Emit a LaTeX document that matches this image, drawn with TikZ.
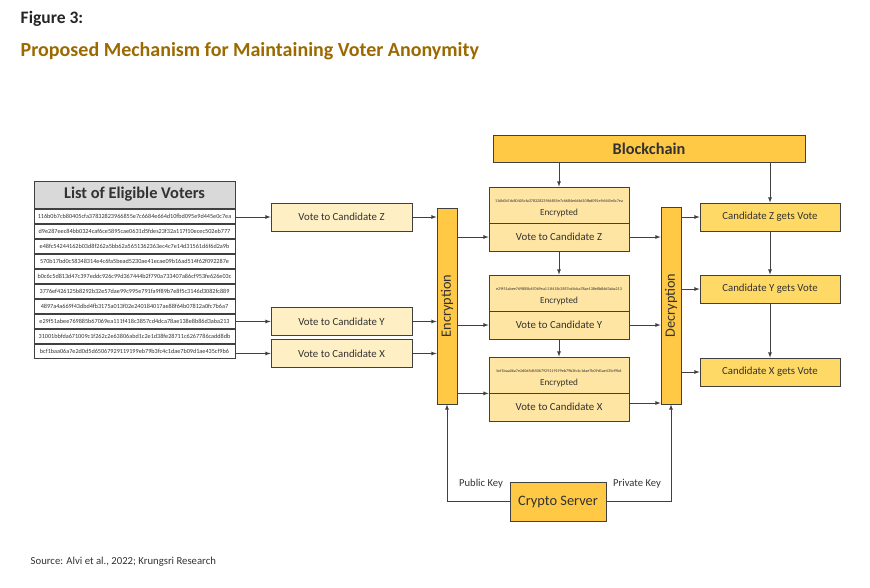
\documentclass[tikz,border=0pt]{standalone}
\usepackage{fontspec}
\setmainfont{Carlito}
\usetikzlibrary{calc}
\definecolor{linegray}{RGB}{64,64,64}
\definecolor{textgray}{RGB}{50,50,50}
\definecolor{headgray}{RGB}{217,217,217}
\definecolor{gold}{RGB}{255,200,69}
\definecolor{candgold}{RGB}{255,217,102}
\definecolor{cream}{RGB}{255,239,196}
\definecolor{creamdark}{RGB}{255,229,163}
\definecolor{titlebrown}{RGB}{155,105,0}
\newcommand{\tinyhash}[1]{\rule{0pt}{9pt}{\fontsize{4.1}{5}\selectfont #1}}

\begin{document}
\begin{tikzpicture}[
 x=1pt,
 y=-1pt,
 thick,
 >={latex},
 color=linegray,
 box/.style={
  draw=linegray,
  text=textgray,
  rectangle,
  inner sep=1pt,
  align=center,
  font=\fontsize{10.8}{13}\selectfont,
 },
 row/.style={box, minimum width=201pt, minimum height=14pt, inner sep=0pt, font=\fontsize{6.2}{7}\selectfont},
 vote/.style={box, fill=cream, minimum width=141pt, minimum height=28pt},
 bar/.style={box, fill=gold, minimum width=20pt, minimum height=196pt, font=\fontsize{14.3}{16}\selectfont},
 sealed/.style={box, fill=creamdark, minimum width=140pt, minimum height=36pt, font=\fontsize{9.2}{10}\selectfont},
 cast/.style={box, fill=creamdark, minimum width=140pt, minimum height=28pt},
 candidate/.style={box, fill=candgold, minimum width=140pt, minimum height=28pt},
 keytext/.style={text=textgray, font=\fontsize{10.6}{12}\selectfont},
]
\useasboundingbox (0,0) rectangle (870,587);

% headings
\node at (17,23) [anchor=base west, text=black!85, font=\bfseries\fontsize{17.5}{20}\selectfont] (figno) {Figure 3:};
\node at (17,56) [anchor=base west, text=titlebrown, font=\bfseries\fontsize{20}{24}\selectfont] (title) {Proposed Mechanism for Maintaining Voter Anonymity};

% voters
\node at (134.5,194.5) [box, fill=headgray, minimum width=201pt, minimum height=27pt, font=\bfseries\fontsize{16.4}{19}\selectfont] (voters) {List of Eligible Voters};
\node at (134.5,216) [row] (voter1) {116b0b7cb80405cfa37832823966855e7c6684e664d10fbd095e9d445e0c7ea};
\node at (134.5,231) [row] (voter2) {d9e287eec84bb0324caf6ce5895cae0631d5fdes23f32a117f10ecec502eb777};
\node at (134.5,246) [row] (voter3) {e48fc54244162b03d8f262a5bb62a5651362363ec4c7e14d31561d6f6d2a9b};
\node at (134.5,261) [row] (voter4) {570b17bd0c58348314e4c6fa5bead5230ae41ecae09b16ad514f62f092287e};
\node at (134.5,276) [row] (voter5) {b0c6c5d813d47c397eddc926c99d367444b2f790a733407a86cf953fe626e03c};
\node at (134.5,291) [row] (voter6) {3776ef426125b8292b32e57dae99c995e791fa9f89b7e8f5c3146d3082fc889};
\node at (134.5,306) [row] (voter7) {4897a4a669f43dbd4fb3175a013f02e240184017ae88f64b07812a0fc7b6a7};
\node at (134.5,321) [row] (voter8) {e29f51abee769885b67069ea111f418c3857cd4dca78ae138e8b86d3aba213};
\node at (134.5,336) [row] (voter9) {31001bbfda671009c1f262c2e63806abd1c2e1d38fe28711c6267786cadd8db};
\node at (134.5,351) [row] (voter10) {bcf1baa06a7e2d0d5d65067929119199eb79b3fc4c1dae7b09d1ae435cf9b6};

% votes
\node at (341.5,217) [vote] (voteZ) {Vote to Candidate Z};
\node at (341.5,321.5) [vote] (voteY) {Vote to Candidate Y};
\node at (341.5,353.5) [vote] (voteX) {Vote to Candidate X};

\draw[->] (voter1.east |- voteZ.west) -- (voteZ.west);
\draw[->] (voter8.east |- voteY.west) -- (voteY.west);
\draw[->] (voter10.east |- voteX.west) -- (voteX.west);

\node at (447,306) [bar] (encrypt) {\rotatebox{90}{Encryption}};
\node at (671,305.5) [bar, minimum height=197pt] (decrypt) {\rotatebox{90}{Decryption}};

\draw[->] (voteZ.east) -- (voteZ.east -| encrypt.west);
\draw[->] (voteY.east) -- (voteY.east -| encrypt.west);
\draw[->] (voteX.east) -- (voteX.east -| encrypt.west);

% blockchain
\node at (649,148.5) [box, fill=gold, minimum width=312pt, minimum height=27pt, font=\bfseries\fontsize{16.3}{19}\selectfont] (chain) {Blockchain};

\node at (559,205) [sealed] (sealZ) {\tinyhash{116b0b7cb80405cfa37832823966855e7c6684e664d10fbd095e9d445e0c7ea}\\[3pt]Encrypted};
\node at (559,237) [cast] (castZ) {Vote to Candidate Z};
\node at (559,293) [sealed] (sealY) {\tinyhash{e29f51abee769885b67069ea111f418c3857cd4dca78ae138e8b86d3aba213}\\[3pt]Encrypted};
\node at (559,325) [cast] (castY) {Vote to Candidate Y};
\node at (559,375) [sealed] (sealX) {\tinyhash{bcf1baa06a7e2d0d5d65067929119199eb79b3fc4c1dae7b09d1ae435cf9b6}\\[3pt]Encrypted};
\node at (559,407) [cast] (castX) {Vote to Candidate X};

\draw[->] (chain.south -| sealZ.north) -- (sealZ.north);
\draw[->] (castZ.south) -- (sealY.north);
\draw[->] (castY.south) -- (sealX.north);

\draw[->] (encrypt.east |- castZ.west) -- (castZ.west);
\draw[->] (encrypt.east |- castY.west) -- (castY.west);
\draw[->] (encrypt.east |- sealX.south west) -- (sealX.south west);

\draw[->] (castZ.east) -- (castZ.east -| decrypt.west);
\draw[->] (castY.east) -- (castY.east -| decrypt.west);
\draw[->] ([yshift=4pt]castX.east) -- ([yshift=4pt]castX.east -| decrypt.west);

% results
\node at (770,217) [candidate] (candZ) {Candidate Z gets Vote};
\node at (770,289) [candidate] (candY) {Candidate Y gets Vote};
\node at (770,372) [candidate] (candX) {Candidate X gets Vote};

\draw[->] (chain.south -| candZ.north) -- (candZ.north);
\draw[->] (decrypt.east |- candZ.west) -- (candZ.west);
\draw[->] (decrypt.east |- candY.west) -- (candY.west);
\draw[->] (decrypt.east |- candX.west) -- (candX.west);
\draw[->] (candZ.south) -- (candY.north);
\draw[->] (candY.south) -- (candX.north);

% keys
\node at (558,501.5) [box, fill=gold, minimum width=96pt, minimum height=39pt, font=\fontsize{14.4}{16}\selectfont] (crypto) {Crypto Server};
\draw[->] (crypto.west) -| (encrypt.south);
\draw[->] (crypto.east) -| (decrypt.south);
\node at (481,484) [keytext] (pubkey) {Public Key};
\node at (637,484) [keytext] (privkey) {Private Key};

\node at (27,564) [anchor=base west, text=textgray, font=\fontsize{10.7}{12}\selectfont] (source) {Source: Alvi et al., 2022; Krungsri Research};
\end{tikzpicture}
\end{document}
